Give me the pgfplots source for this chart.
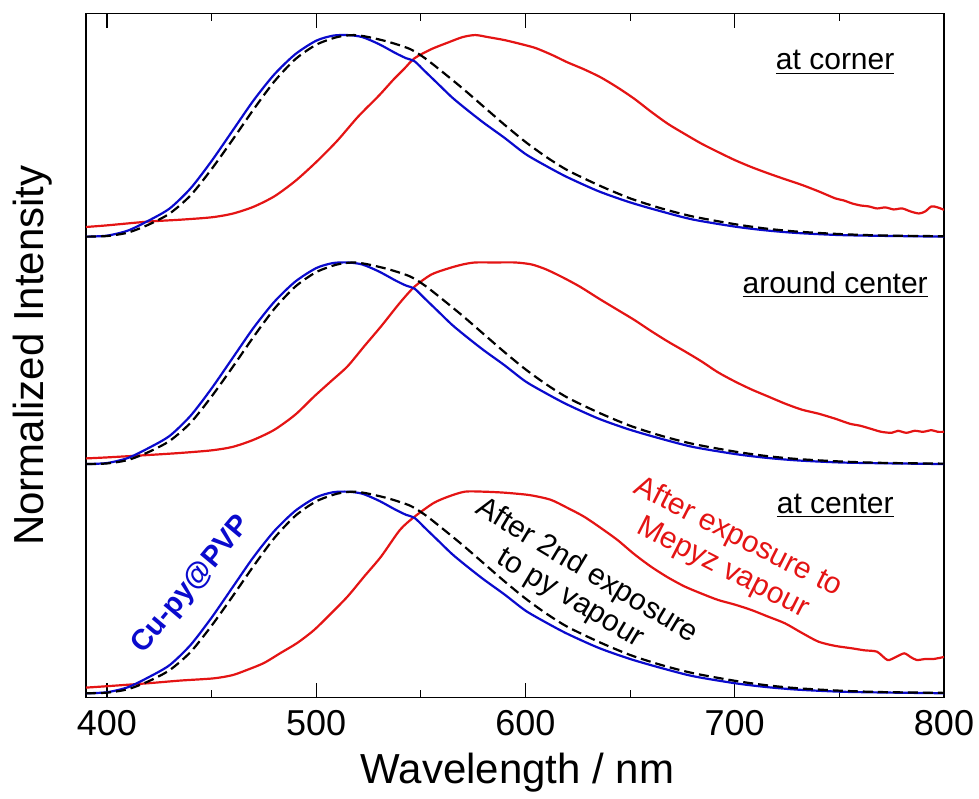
\documentclass[border=0pt]{standalone}
\usepackage{pgfplots}
\pgfplotsset{compat=1.18}
\usepackage{pgfplotstable}
\usepackage{fontspec}
\setmainfont{Liberation Sans}
\definecolor{myblue}{RGB}{10,10,205}
\definecolor{myred}{RGB}{228,20,20}

\pgfplotstableread{
x v
390 0.0
400 0.005
410 0.03
420 0.08
430 0.14
440 0.24
450 0.375
460 0.525
470 0.675
480 0.805
490 0.905
500 0.972
508 0.997
515 1.0
522 0.99
530 0.955
538 0.91
543 0.885
547 0.87
552 0.82
558 0.76
565 0.69
572 0.63
580 0.565
590 0.49
600 0.41
610 0.35
620 0.295
635 0.225
650 0.17
665 0.125
680 0.085
700 0.05
715 0.031
730 0.018
750 0.008
770 0.004
800 0.0
}\blue

\pgfplotstableread{
x v
390 0.0
400 0.003
410 0.02
420 0.06
430 0.115
440 0.205
450 0.335
460 0.48
470 0.63
480 0.77
490 0.88
500 0.952
510 0.99
518 1.0
525 0.99
535 0.965
545 0.93
552 0.885
560 0.82
570 0.735
580 0.645
590 0.555
600 0.47
610 0.395
620 0.33
635 0.255
650 0.19
665 0.14
680 0.1
700 0.062
715 0.04
730 0.025
750 0.013
770 0.006
800 0.002
}\black

\pgfplotstableread{
x v
390 0.048
400 0.056
420 0.075
435 0.084
450 0.096
460 0.114
470 0.148
480 0.2
490 0.276
500 0.37
510 0.475
520 0.595
530 0.7
537 0.78
542 0.832
547 0.885
555 0.93
563 0.963
570 0.99
576 1.0
582 0.99
590 0.975
598 0.955
605 0.935
613 0.9
620 0.865
628 0.83
636 0.79
644 0.74
652 0.684
660 0.62
668 0.56
676 0.51
684 0.462
692 0.42
700 0.38
708 0.345
716 0.314
724 0.285
732 0.257
740 0.225
748 0.19
752 0.18
756 0.165
760 0.155
764 0.15
768 0.14
772 0.145
776 0.135
780 0.14
784 0.125
788 0.115
791 0.125
794 0.15
797 0.145
800 0.133
}\redtop

\pgfplotstableread{
x v
390 0.028
400 0.033
420 0.045
435 0.055
450 0.068
460 0.085
470 0.12
480 0.17
490 0.245
499 0.335
507 0.41
515 0.485
523 0.585
531 0.683
540 0.8
547 0.88
555 0.94
563 0.97
570 0.99
576 1.0
585 1.0
595 1.0
603 0.99
610 0.965
618 0.925
626 0.88
636 0.815
644 0.765
652 0.715
660 0.66
668 0.608
676 0.56
684 0.51
692 0.455
700 0.41
708 0.37
716 0.335
724 0.3
732 0.27
740 0.25
748 0.225
755 0.2
760 0.19
765 0.175
770 0.16
775 0.155
778 0.165
782 0.155
786 0.165
790 0.16
794 0.168
797 0.16
800 0.16
}\redmid

\pgfplotstableread{
x v
390 0.028
400 0.035
420 0.05
435 0.063
451 0.074
460 0.09
467 0.116
475 0.15
483 0.2
491 0.25
499 0.314
507 0.395
515 0.48
523 0.58
531 0.678
540 0.81
547 0.876
556 0.943
563 0.975
571 1.0
580 1.0
590 0.995
602 0.983
612 0.96
620 0.92
628 0.876
636 0.82
644 0.76
652 0.69
660 0.628
668 0.575
676 0.53
684 0.495
692 0.463
700 0.44
708 0.413
716 0.38
724 0.347
732 0.3
740 0.256
748 0.235
756 0.223
762 0.213
768 0.206
773 0.165
777 0.18
781 0.198
784 0.18
787 0.165
791 0.17
795 0.17
800 0.18
}\redbot

\begin{document}
\begin{tikzpicture}
\begin{axis}[
  name=ax,
  width=429pt, height=342pt, scale only axis,
  xmin=390, xmax=800, ymin=-0.021, ymax=3.372,
  xtick={400,500,600,700,800},
  minor xtick={450,550,650,750},
  ytick=\empty,
  tick align=inside, xtick pos=both,
  major tick length=7.5pt, minor tick length=4pt,
  every tick/.style={black, line width=0.6pt},
  axis line style={line width=0.8pt},
  /pgf/number format/assume math mode=true,
  xticklabel style={font=\fontsize{18}{18}\selectfont, anchor=north, inner sep=0pt, yshift=-6pt},
  every axis x label/.style={at={(axis description cs:0.503,-0.1257)}, anchor=base, font=\fontsize{21}{21}\selectfont},
  every axis y label/.style={at={(axis description cs:-0.0385,0.5)}, rotate=90, anchor=south, inner sep=0pt, font=\fontsize{21}{21}\selectfont},
  xlabel={Wavelength / nm},
  ylabel={Normalized Intensity},
  clip=true,
  every axis plot/.append style={smooth, tension=0.45, line width=1.1pt},
]
% top panel
\addplot[myred] table[x=x, y expr=\thisrow{v}+2.265] {\redtop};
\addplot[myblue] table[x=x, y expr=\thisrow{v}+2.265] {\blue};
\addplot[black, dash pattern=on 5pt off 2.5pt] table[x=x, y expr=\thisrow{v}+2.265] {\black};
% middle panel
\addplot[myred] table[x=x, y expr=\thisrow{v}+1.137] {\redmid};
\addplot[myblue] table[x=x, y expr=\thisrow{v}+1.137] {\blue};
\addplot[black, dash pattern=on 5pt off 2.5pt] table[x=x, y expr=\thisrow{v}+1.137] {\black};
% bottom panel
\addplot[myred] table[x=x, y=v] {\redbot};
\addplot[myblue] table[x=x, y=v] {\blue};
\addplot[black, dash pattern=on 5pt off 2.5pt] table[x=x, y=v] {\black};

\node[anchor=base, font=\fontsize{15}{17}\selectfont] at (axis cs:748,3.092) {\underline{at corner}};
\node[anchor=base, font=\fontsize{15}{17}\selectfont] at (axis cs:748,1.984) {\underline{around center}};
\node[anchor=base, font=\fontsize{15}{17}\selectfont] at (axis cs:748,0.893) {\underline{at center}};
\node[rotate=-27, align=center, text=myred, font=\fontsize{15}{17}\selectfont] at (axis cs:697.9,0.696) {After exposure to\\Mepyz vapour};
\node[rotate=-31, align=center, text=black, font=\fontsize{15}{16}\selectfont] at (axis cs:625.3,0.537) {After 2nd exposure\\to py vapour};
\node[rotate=50, text=myblue, font=\fontsize{14.5}{17}\selectfont\bfseries] at (axis cs:440.5,0.537) {Cu-py@PVP};
\end{axis}
\pgfresetboundingbox
\path ([xshift=-43pt,yshift=-50.25pt]ax.south west) rectangle ([xshift=17.5pt,yshift=6.75pt]ax.north east);
\end{tikzpicture}
\end{document}
